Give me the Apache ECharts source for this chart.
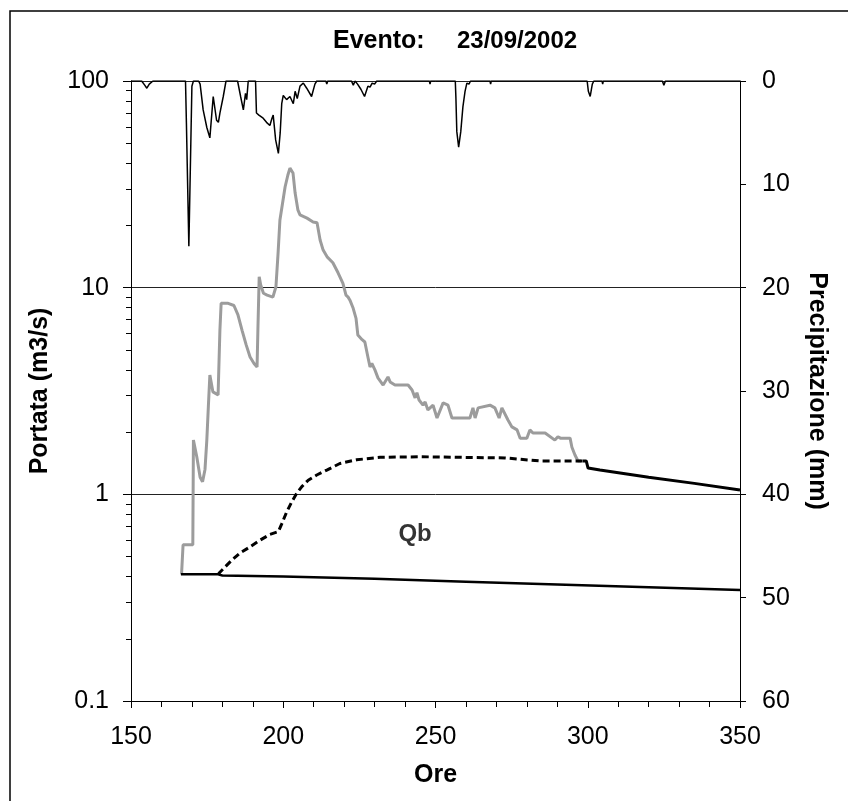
<!DOCTYPE html>
<html>
<head>
<meta charset="utf-8">
<style>
  html, body { margin: 0; padding: 0; background: #fff; }
  #chart { width: 848px; height: 801px; }
</style>
<script src="https://cdn.jsdelivr.net/npm/echarts@6/dist/echarts.min.js"></script>
</head>
<body>
<div id="chart"></div>
<script>
// ---- Data ----
const titleLeft = 'Evento:';
const titleRight = '23/09/2002';
const xAxisName = 'Ore';
const leftAxisName = 'Portata (m3/s)';
const rightAxisName = 'Precipitazione (mm)';

// x-axis (hours)
const xMin = 150, xMax = 350, xInterval = 50;

// left log axis: labelled decades and minor ticks
const leftLabelValues = [0.1, 1, 10, 100];
const leftMinorTickValues = [0.2, 0.3, 0.4, 0.5, 0.6, 0.7, 0.8, 0.9,
  2, 3, 4, 5, 6, 7, 8, 9, 20, 30, 40, 50, 60, 70, 80, 90];

// right axis (precipitation, inverted)
const rightMin = 0, rightMax = 60, rightInterval = 10;

// Observed discharge (m3/s) [hour, value]
const flowData = [
  [166.6,0.41],[167.0,0.41],[167.1,0.57],[170.3,0.57],[170.5,1.83],[171.6,1.52],[172.7,1.21],
  [173.5,1.15],[174.3,1.32],[174.9,1.83],[175.4,2.65],[175.9,3.78],[176.9,3.13],[178.6,3.03],
  [179.2,6.24],[179.6,8.4],[181.9,8.4],[183.8,8.2],[185.1,7.4],[186.5,6.2],[187.8,5.3],
  [189.1,4.62],[190.4,4.3],[191.4,4.13],[191.7,6.5],[192.1,11.3],[192.6,10.3],[193.5,9.4],
  [194.7,9.2],[196.6,9.0],[197.6,10.1],[198.3,14.7],[198.9,21.2],[200.6,30.7],[201.5,35.0],
  [202.2,37.9],[203.2,35.9],[203.9,28.7],[204.8,23.8],[205.5,22.5],[207.8,21.7],[209.8,20.8],
  [211.1,20.6],[212.1,17.0],[213.1,15.2],[214.4,14.1],[216.3,13.2],[218.0,11.8],[219.6,10.5],
  [220.6,9.2],[221.3,9.0],[221.9,8.7],[222.9,8.0],[223.9,7.1],[224.5,5.9],[225.9,5.6],
  [226.8,5.46],[227.8,4.62],[228.5,4.13],[229.1,4.3],[230.1,4.0],[231.1,3.66],[232.8,3.38],
  [234.4,3.70],[235.1,3.5],[236.7,3.38],[241.0,3.38],[242.3,3.2],[243.3,2.93],[243.9,3.1],
  [244.6,2.86],[245.9,2.70],[246.6,2.8],[247.5,2.56],[249.2,2.70],[250.5,2.34],[252.5,2.77],
  [254.1,2.70],[255.4,2.34],[261.3,2.34],[262.3,2.62],[263.0,2.34],[264.0,2.62],[267.9,2.70],
  [269.5,2.62],[270.9,2.34],[271.8,2.62],[273.8,2.29],[275.1,2.12],[276.8,2.05],[277.8,1.87],
  [280.0,1.87],[281.0,2.05],[282.0,1.98],[286.0,1.98],[289.2,1.83],[290.2,1.90],[291.0,1.87],
  [294.2,1.87],[294.8,1.69],[295.8,1.55],[296.8,1.45],[297.8,1.45]
];

// Baseflow Qb, dashed part (m3/s)
const qbDashed = [
  [178.6,0.41],[179.2,0.42],[183.1,0.48],[185.8,0.52],[188.5,0.55],[192.4,0.60],[195.6,0.64],
  [198.4,0.66],[199.5,0.72],[201.1,0.82],[202.8,0.92],[204.4,1.01],[206.1,1.09],[208.2,1.17],
  [211.0,1.24],[214.3,1.31],[218.6,1.41],[224.1,1.47],[231.8,1.51],[244.9,1.52],[272.8,1.50],
  [284.3,1.45],[298.4,1.45]
];

// Recession curve, solid part (m3/s)
const qbSolid = [
  [298.4,1.45],[299.5,1.45],[300.1,1.34],[304.0,1.31],[320.0,1.21],[335.0,1.13],[350.0,1.05]
];

// Lower baseline (m3/s)
const baseline = [
  [166.4,0.41],[178.6,0.41],[180.0,0.405],[200.0,0.40],[230.0,0.39],[260.0,0.378],
  [290.0,0.366],[320.0,0.355],[350.0,0.344]
];

// Precipitation (mm) [hour, value]
const precip = [
  [150,0],[153.5,0],[154.5,0.4],[155.2,0.7],[156,0.3],[156.5,0.2],[157.2,0],
  [167.9,0],[168.2,4.1],[169.0,16.0],[170.0,0.5],[170.5,0],
  [172.2,0],[172.7,0.3],[173.7,2.8],[174.9,4.5],[175.9,5.5],[177.0,1.5],[178.1,3.8],
  [178.7,4.0],[179.2,3.1],[180.3,1.5],[181.2,0],
  [185.0,0],[186.0,1.5],[186.9,2.8],[187.6,1.2],[188.0,1.8],[188.5,0],
  [190.9,0],[191.2,3.1],[192.0,3.3],[193.4,3.6],[194.5,4.0],[195.6,4.3],[196.3,3.6],
  [196.7,3.3],[197.5,5.7],[198.4,7.0],[199.0,5.0],[199.5,2.2],[200.0,1.4],[201.1,1.8],
  [202.2,1.5],[203.3,2.2],[203.9,1.0],[204.6,1.7],[205.5,0.5],[206.6,0.2],[207.7,0.7],
  [209.3,1.5],[210.4,0.3],[211.0,0],
  [214.0,0],[214.3,0.3],[214.6,0],
  [222.4,0],[223.0,0.4],[223.6,0],[224.4,0.3],[225.5,0.8],[226.7,1.5],[227.8,0.5],
  [228.5,0.6],[229.2,0.2],[230.0,0.3],[230.7,0],
  [248.0,0],[248.2,0.3],[248.4,0],
  [256.5,0],[256.7,1.6],[257.0,4.9],[257.6,6.4],[258.3,4.9],[259.0,2.5],[259.7,1.0],
  [260.3,0.2],[261.0,0.3],[261.5,0],
  [267.9,0],[268.1,0.3],[268.3,0],
  [299.8,0],[300.2,1.0],[300.8,1.5],[301.2,0.8],[301.5,0.3],[302.0,0],
  [304.7,0],[304.9,0.3],[305.1,0],
  [324.5,0],[325.0,0.4],[325.5,0],[350,0]
];

// Annotation
const qbLabel = [[243.3, 0.64, 'Qb']];

// ---- Chart ----
const FONT = '"Liberation Sans", Arial, sans-serif';
const chart = echarts.init(document.getElementById('chart'), null, { renderer: 'canvas' });

const nameStyle = { fontFamily: FONT, fontWeight: 'bold', fontSize: 25, color: '#000' };
const tickLabelStyle = { fontFamily: FONT, fontSize: 25, color: '#000' };

const option = {
  backgroundColor: '#ffffff',
  animation: false,
  graphic: [
    { type: 'rect', silent: true, z: 100,
      shape: { x: 10, y: 11, width: 1000, height: 1000 },
      style: { fill: 'none', stroke: '#000', lineWidth: 1.5 } },
    { type: 'text', left: 333, top: 29, z: 100,
      style: { text: titleLeft, font: 'bold 25px ' + FONT, fill: '#000' } },
    { type: 'text', left: 457, top: 29, z: 100,
      style: { text: titleRight, font: 'bold 24px ' + FONT, fill: '#000' } }
  ],
  grid: { left: 131, right: 108, top: 81, bottom: 100, containLabel: false },
  xAxis: {
    type: 'value', min: xMin, max: xMax, interval: xInterval,
    name: xAxisName, nameLocation: 'middle', nameGap: 62,
    nameTextStyle: nameStyle,
    axisLine: { show: true, onZero: false, lineStyle: { color: '#000', width: 1 } },
    axisTick: { show: true, length: 7, lineStyle: { color: '#000' } },
    minorTick: { show: true, splitNumber: 5, length: 6, lineStyle: { color: '#000' } },
    axisLabel: Object.assign({ margin: 24 }, tickLabelStyle),
    splitLine: { show: false }
  },
  yAxis: [
    {
      type: 'log', logBase: 10, min: 0.1, max: 100, position: 'left',
      name: leftAxisName, nameLocation: 'middle', nameGap: 78,
      nameTextStyle: Object.assign({ padding: [0, 0, 0, 0] }, nameStyle),
      axisLine: { show: true, onZero: false, lineStyle: { color: '#000', width: 1 } },
      axisTick: { show: true, length: 8, customValues: leftLabelValues, lineStyle: { color: '#000' } },
      axisLabel: Object.assign({ margin: 22, customValues: leftLabelValues,
        formatter: v => String(v) }, tickLabelStyle),
      splitLine: { show: true, lineStyle: { color: '#222', width: 1 } }
    },
    {
      type: 'value', min: rightMin, max: rightMax, interval: rightInterval, inverse: true,
      position: 'right',
      name: rightAxisName, nameLocation: 'middle', nameGap: 64, nameRotate: -90,
      nameTextStyle: nameStyle,
      axisLine: { show: true, onZero: false, lineStyle: { color: '#000', width: 1 } },
      axisTick: { show: true, length: 6, lineStyle: { color: '#000' } },
      axisLabel: Object.assign({ margin: 22 }, tickLabelStyle),
      splitLine: { show: false }
    },
    {
      // overlay axis carrying only the log minor ticks of the left axis
      type: 'log', logBase: 10, min: 0.1, max: 100, position: 'left', offset: 0,
      axisLine: { show: false },
      axisTick: { show: true, length: 5, customValues: leftMinorTickValues, lineStyle: { color: '#000' } },
      axisLabel: { show: false },
      splitLine: { show: false }
    }
  ],
  series: [
    {
      name: 'Precipitazione', type: 'line', yAxisIndex: 1, data: precip,
      symbol: 'none', z: 3,
      lineStyle: { color: '#000', width: 1.5 }
    },
    {
      name: 'Portata', type: 'line', yAxisIndex: 0, data: flowData,
      symbol: 'none', z: 4,
      lineStyle: { color: '#9c9c9c', width: 3 }
    },
    {
      name: 'Baseline', type: 'line', yAxisIndex: 0, data: baseline,
      symbol: 'none', z: 5,
      lineStyle: { color: '#000', width: 2.5 }
    },
    {
      name: 'Qb dashed', type: 'line', yAxisIndex: 0, data: qbDashed,
      symbol: 'none', z: 5,
      lineStyle: { color: '#000', width: 3, type: [7, 4] }
    },
    {
      name: 'Qb solid', type: 'line', yAxisIndex: 0, data: qbSolid,
      symbol: 'none', z: 5,
      lineStyle: { color: '#000', width: 3 }
    },
    {
      name: 'Qb label', type: 'scatter', yAxisIndex: 0, data: qbLabel,
      symbolSize: 1, itemStyle: { color: 'rgba(0,0,0,0)' }, z: 6,
      label: { show: true, position: 'inside', formatter: p => p.data[2],
        fontFamily: FONT, fontWeight: 'bold', fontSize: 24, color: '#000' }
    }
  ]
};
chart.setOption(option);
</script>
</body>
</html>
